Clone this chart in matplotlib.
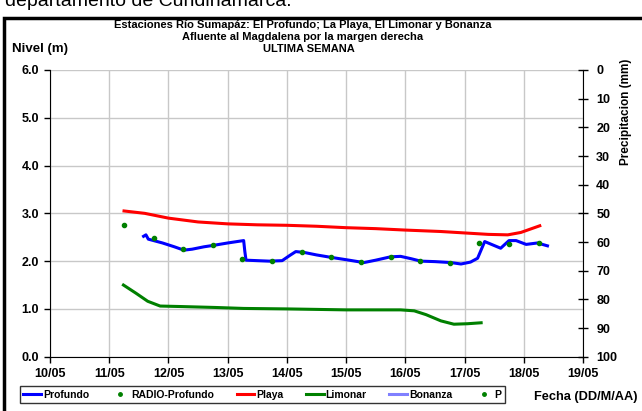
import matplotlib
matplotlib.use('Agg')
import matplotlib.pyplot as plt
from matplotlib.lines import Line2D
from matplotlib.patches import Rectangle

plt.rcParams['font.family'] = ['Liberation Sans', 'DejaVu Sans']

# day offsets from 10/05 (0 = 10/05 00:00)
profundo_x = [1.58, 1.62, 1.66, 1.9, 2.1, 2.26, 2.4, 2.6, 2.76, 3.0, 3.27, 3.29, 3.31, 3.5, 3.7,
              3.92, 4.05, 4.15, 4.3, 4.5, 4.74, 5.0, 5.3, 5.5, 5.75, 5.92, 6.1, 6.26, 6.5, 6.77,
              6.94, 7.1, 7.22, 7.34, 7.61, 7.75, 7.87, 8.04, 8.23, 8.4]
profundo_y = [2.52, 2.55, 2.46, 2.38, 2.3, 2.23, 2.25, 2.3, 2.33, 2.38, 2.43, 2.2, 2.02, 2.01, 2.0,
              2.01, 2.12, 2.2, 2.18, 2.13, 2.08, 2.03, 1.97, 2.02, 2.09, 2.1, 2.05, 2.0, 1.99, 1.97,
              1.94, 1.98, 2.06, 2.41, 2.27, 2.43, 2.43, 2.35, 2.38, 2.32]

radio_x = [1.25, 1.75, 2.25, 2.75, 3.25, 3.75, 4.25, 4.75, 5.25, 5.75, 6.25, 6.75, 7.25, 7.75, 8.25]
radio_y = [2.76, 2.49, 2.25, 2.33, 2.04, 2.0, 2.2, 2.08, 1.98, 2.09, 2.0, 1.96, 2.37, 2.35, 2.38]

playa_x = [1.25, 1.6, 2.0, 2.5, 3.0, 3.5, 4.0, 4.5, 5.0, 5.5, 6.0, 6.6, 7.0, 7.4, 7.73, 7.95, 8.27]
playa_y = [3.05, 3.0, 2.9, 2.82, 2.78, 2.76, 2.75, 2.73, 2.7, 2.68, 2.65, 2.62, 2.59, 2.56, 2.55, 2.6, 2.74]

limonar_x = [1.24, 1.45, 1.65, 1.86, 2.2, 2.8, 3.27, 4.0, 5.0, 5.92, 6.15, 6.35, 6.6, 6.82, 7.05, 7.28]
limonar_y = [1.5, 1.33, 1.16, 1.06, 1.05, 1.03, 1.01, 1.0, 0.98, 0.98, 0.96, 0.88, 0.75, 0.68, 0.69, 0.71]

day_labels = ['10/05', '11/05', '12/05', '13/05', '14/05', '15/05', '16/05', '17/05', '18/05', '19/05']
precip_ticks = list(range(0, 101, 10))

fig = plt.figure(figsize=(6.42, 4.11), dpi=100)
ax = fig.add_axes([50 / 642, 1 - 356.7 / 411, 533 / 642, 286.7 / 411])

ax.plot(limonar_x, limonar_y, color='#008000', lw=2.2, zorder=3)
ax.plot(playa_x, playa_y, color='#ff0000', lw=2.2, zorder=3)
ax.plot(profundo_x, profundo_y, color='#0000ff', lw=2.2, zorder=4)
ax.plot(radio_x, radio_y, 'o', color='#008000', ms=3, zorder=5)

ax.set_xlim(0, 9)
ax.set_ylim(0, 6)
ax.set_xticks(range(10))
ax.set_xticklabels(day_labels, fontsize=9, fontweight='bold')
ax.set_yticks([0, 1, 2, 3, 4, 5, 6])
ax.set_yticklabels(['%.1f' % v for v in range(7)], fontsize=9, fontweight='bold')
ax.grid(True, color='#c8c8c8', lw=1)
ax.set_axisbelow(True)
ax.spines['top'].set_visible(False)
ax.spines['right'].set_visible(False)
ax.tick_params(axis='both', direction='out', length=4, width=1, pad=4)

ax2 = ax.twinx()
ax2.set_ylim(100, 0)
ax2.set_yticks(precip_ticks)
ax2.set_yticklabels([str(v) for v in precip_ticks], fontsize=9, fontweight='bold')
ax2.tick_params(axis='y', direction='inout', length=7, width=1, pad=6)
ax2.spines['top'].set_visible(False)
ax2.spines['left'].set_visible(False)
ax2.spines['bottom'].set_visible(False)

fig.text(626 / 642, 1 - 112 / 411, 'Precipitacion (mm)', rotation=90, ha='center', va='center',
         fontsize=8.5, fontweight='bold')

tx = 303 / 642
fig.text(tx, 1 - 25 / 411, 'Estaciones Río Sumapáz: El Profundo; La Playa, El Limonar y Bonanza',
         ha='center', va='center', fontsize=8, fontweight='bold')
fig.text(tx, 1 - 37 / 411, 'Afluente al Magdalena por la margen derecha',
         ha='center', va='center', fontsize=8, fontweight='bold')
fig.text(tx + 6 / 642, 1 - 49 / 411, 'ULTIMA SEMANA',
         ha='center', va='center', fontsize=8, fontweight='bold')
fig.text(12 / 642, 1 - 49 / 411, 'Nivel (m)', ha='left', va='center', fontsize=9.5, fontweight='bold')
fig.text(5 / 642, 1 - 6 / 411, 'departamento de Cundinamarca.', ha='left', va='baseline', fontsize=14)

handles = [
    Line2D([], [], color='#0000ff', lw=2.2),
    Line2D([], [], color='#008000', marker='o', ms=2.5, ls='none'),
    Line2D([], [], color='#ff0000', lw=2.2),
    Line2D([], [], color='#008000', lw=2.2),
    Line2D([], [], color='#8080ff', lw=2.2),
    Line2D([], [], color='#008000', marker='o', ms=2.5, ls='none'),
]
labels = ['Profundo', 'RADIO-Profundo', 'Playa', 'Limonar', 'Bonanza', 'P']
leg = fig.legend(handles, labels, loc='center left', bbox_to_anchor=(20 / 642, 1 - 394.5 / 411), ncol=6,
                 prop={'weight': 'bold', 'size': 7.5}, frameon=True, fancybox=False,
                 handlelength=1.7, handletextpad=0.2, columnspacing=2.15, borderpad=0.3,
                 borderaxespad=0)
leg.get_frame().set_edgecolor('black')
leg.get_frame().set_linewidth(1)

fig.text(638 / 642, 1 - 397 / 411, 'Fecha (DD/M/AA)', ha='right', va='center', fontsize=9.2, fontweight='bold')

# outer frame
fig.add_artist(Rectangle((4 / 642, -0.05), 1.2, 1 - 18 / 411 + 0.05, transform=fig.transFigure,
                         fill=False, edgecolor='black', lw=2.5))

fig.savefig('out.png', dpi=100)
